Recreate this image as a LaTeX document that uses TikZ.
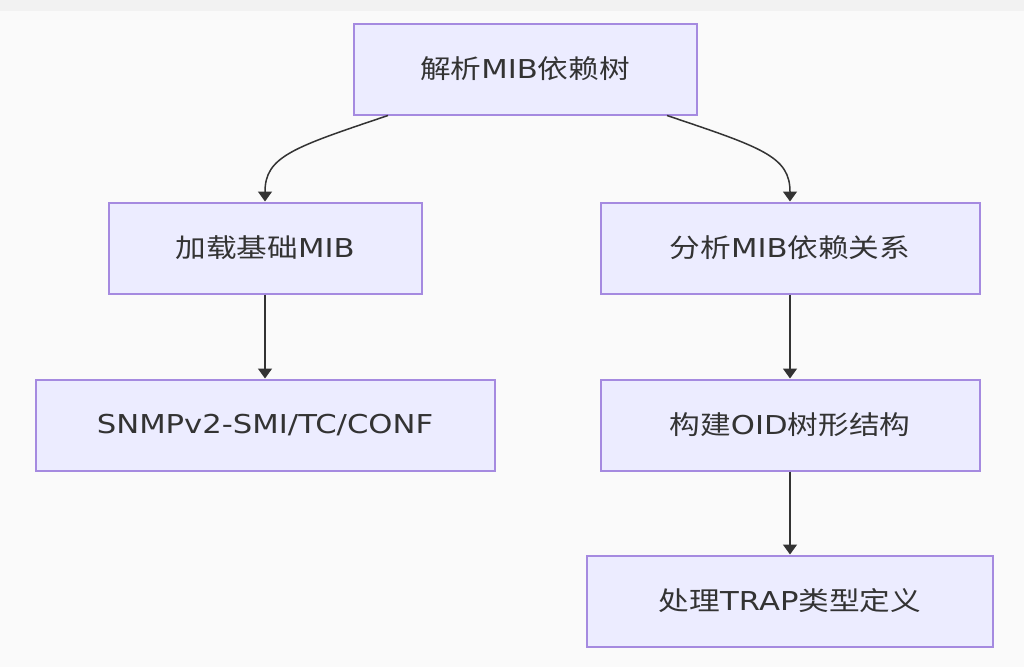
\documentclass[tikz,border=0pt]{standalone}
\usepackage{fontspec}
\setmainfont{DejaVu Sans}[FakeStretch=1.18]
\newfontfamily\zhfont{Noto Sans CJK SC}[FakeStretch=1.18]
\newcommand{\zh}[1]{{\zhfont #1}}
\usetikzlibrary{positioning,arrows.meta}
\definecolor{boxfill}{HTML}{ECECFF}
\definecolor{boxline}{HTML}{A58AE0}
\definecolor{ink}{HTML}{333333}

\begin{document}
\begin{tikzpicture}[x=1pt,y=-1pt,
    stepbox/.style={draw=boxline,fill=boxfill,line width=2pt,minimum height=91pt,
        text=ink,font=\fontsize{26}{30}\selectfont},
    flow/.style={draw=ink,line width=1.5pt,-{Triangle[length=10pt,width=14pt]}}]
    \fill[fill={rgb,255:red,250;green,250;blue,250}] (0,0) rectangle (1024,667);
    \fill[fill={rgb,255:red,242;green,242;blue,242}] (0,0) rectangle (1024,11);
    \useasboundingbox (0,0) rectangle (1024,667);

    \node[stepbox,minimum width=343pt] (parse) at (525,69) {\zh{解析}MIB\zh{依赖树}};
    \node[stepbox,minimum width=313pt] (load) at (265,248) {\zh{加载基础}MIB};
    \node[stepbox,minimum width=379pt] (analyze) at (790,248) {\zh{分析}MIB\zh{依赖关系}};
    \node[stepbox,minimum width=459pt,below=84pt of load] (base) {SNMPv2-SMI/TC/CONF};
    \node[stepbox,minimum width=379pt,below=84pt of analyze] (build) {\zh{构建}OID\zh{树形结构}};
    \node[stepbox,minimum width=406pt,below=83pt of build] (trap) {\zh{处理}TRAP\zh{类型定义}};

    \draw[flow] ([xshift=-137pt]parse.south) .. controls +(-95,32) and +(0,-45) .. (load.north);
    \draw[flow] ([xshift=142pt]parse.south) .. controls +(95,32) and +(0,-45) .. (analyze.north);
    \draw[flow] (load) -- (base);
    \draw[flow] (analyze) -- (build);
    \draw[flow] (build) -- (trap);
\end{tikzpicture}
\end{document}
